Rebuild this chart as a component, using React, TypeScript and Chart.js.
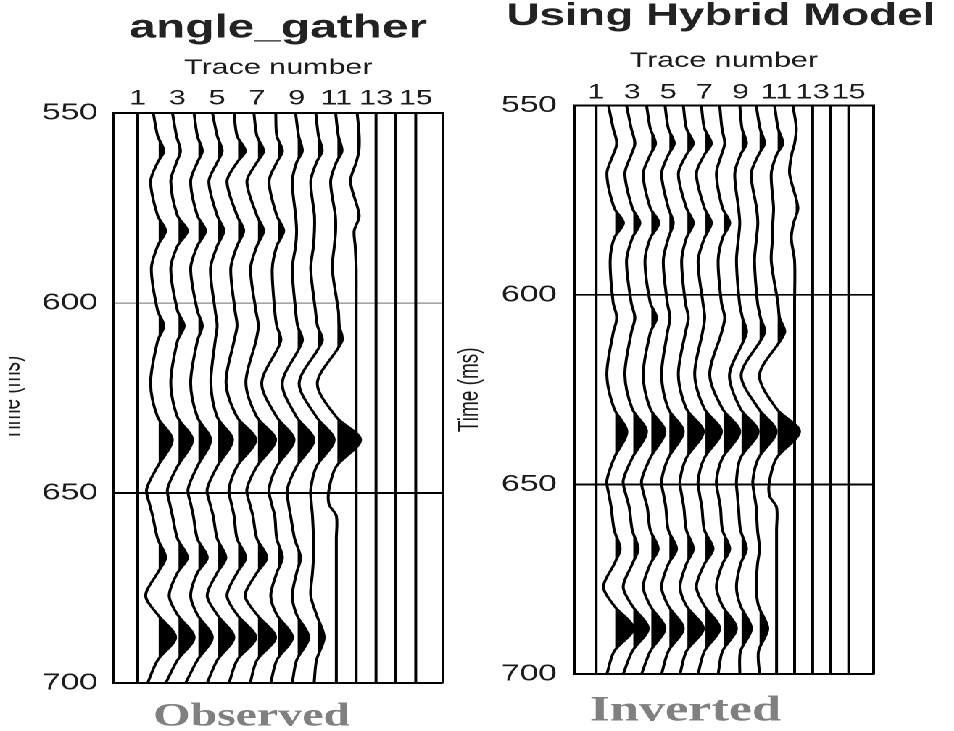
import React, { useEffect, useRef } from 'react';
import { Chart, registerables } from 'chart.js';

Chart.register(...registerables);

// ---------------- data ----------------
// time samples (ms) at which the trace amplitudes were read
const TIME_MS = [550, 556, 560, 563, 568, 577, 581, 585, 591, 602, 606, 610, 621, 630, 636, 643, 649, 653, 656, 662, 667, 671, 677, 682, 688, 694, 700];
const TRACE_NUMBERS = [1, 2, 3, 4, 5, 6, 7, 8, 9, 10, 11, 12, 13, 14, 15];
const TRACE_TICKS = [1, 3, 5, 7, 9, 11, 13, 15];
const TIME_TICKS = [550, 600, 650, 700];

const DEAD_TRACE = [0, 0, 0, 0, 0, 0, 0, 0, 0, 0, 0, 0, 0, 0, 0, 0, 0, 0, 0, 0, 0, 0, 0, 0, 0, 0, 0];

// Observed angle gather, amplitudes per trace
const OBS_02 = [-4.3, 0, 6.3, 0, -7, 0, 8, 0, -6.3, 0, 6.3, 0, -7, 0, 14.7, 0, -11, -8, -5, 0, 8, 0, -12, 0, 18, 0, -10];
const OBS_03 = [-5, -1, 3, -1, -6.7, 0, 10, 0, -6.7, 0, 6.7, 0, -6.7, 0, 15, 0, -10, -7.5, -5, 0, 10, 0, -8.3, 0, 16.7, 0, -11.7];
const OBS_04 = [-3.3, 0, 5, 0, -6.7, 0, 8.3, 0, -6.7, 0, 5, 0, -6.7, 0, 13.3, 0, -9.3, -6.5, -4, 0, 10, 0, -6.7, 0, 15, 0, -11.7];
const OBS_05 = [-4.7, 0, 5, 0, -8.3, 0, 6.7, 0, -6.7, -2, 0, -2, -6.3, 0, 15.3, 0, -10, -7, -4, 0, 8.7, 0, -10, 0, 16.7, 0, -10];
const OBS_06 = [-3, 0, 8.3, 0, -10, 0, 6.7, 0, -6.3, -2, 0, -3, -11, 0, 18.7, 0, -8, -5.5, -3, 0, 8.7, 0, -10, 0, 18.7, 0, -8];
const OBS_07 = [-3, 0, 6.7, 0, -10, 0, 6.7, 0, -6.3, -1, 1.5, -1, -11, 0, 18.7, 0, -10, -7, -4, 0, 10, 0, -11.7, 0, 18.7, 0, -6.7];
const OBS_08 = [-1, 0, 5.7, 0, -7.7, 0, 7, 0, -4.5, -2, 0, 4, -15, 0, 17.3, 0, -7.7, -5, -2, 0, 5.7, 0, -6, 0, 15.7, 0, -6];
const OBS_09 = [-1, 2, 5.7, 0, -4.3, -1, 0, -1, -4.3, -1, 1, 5.7, -14.3, 0, 17.3, 0, -9.3, -8, -6, -2, 4, 0, -4.3, 0, 12.3, 0, -4.3];
const OBS_10 = [-0.7, 2, 5.7, 0, -5.7, -2, -2, -3, -5.7, -1, 1, 5.7, -17.3, 0, 17.7, 0, -5.7, -5, -4, -3, -3, -4, -5.7, 0, 7.7, 0, -2.3];
const OBS_11 = [-0.7, 2, 5.7, 0, -5.7, -1, -0.7, -2, -4, 2, 3, 5.7, -19, 0, 24.3, 0, -7.3, -7.3, 0, 0, 0, 0, 0, 0, 0, 0, 0];
const OBS_12 = [1, 3, 2.7, 0, -5.7, 3, -2, -1, 0, 0, 0, 0, 0, 0, 0, 0, 0, 0, 0, 0, 0, 0, 0, 0, 0, 0, 0];

// Inverted gather (hybrid model), amplitudes per trace
const INV_02 = [-5.7, -1, 2.7, -1, -7.3, 0, 9.3, 0, -4, -1, 2.7, -1, -7.3, 0, 12.7, 0, -7.3, -5, -3, 0, 6, 0, -10.7, 0, 19.3, 0, -7.3];
const INV_03 = [-5.7, -1, 2.7, -1, -7.3, 0, 7.7, 0, -5.7, -1, 2.7, -1, -7.3, 0, 14.3, 0, -9, -6, -3, 0, 6, 0, -9, 0, 16, 0, -9];
const INV_04 = [-3.7, 0, 5.3, 0, -7, 0, 8.7, 0, -5.3, 0, 6.3, 0, -7, 0, 14.7, 0, -8.7, -6, -3, 0, 8, 0, -7, 0, 14.7, 0, -8.7];
const INV_05 = [-3.3, 0, 6, 0, -6.7, 0, 5, 0, -5, -1, 1.7, -1, -6.7, 0, 15, 0, -6.7, -4.5, -2.5, 0, 8.3, 0, -6.7, 0, 15, 0, -6.7];
const INV_06 = [-3, 0, 7, 0, -8, 0, 7, 0, -4.7, -1, 2, -1, -8, 0, 17, 0, -6.3, -4.5, -2.5, 0, 7, 0, -6.3, 0, 17, 0, -6.3];
const INV_07 = [-3, 0, 7, 0, -8, 0, 7, 0, -6.3, -1.5, 0.3, -2, -9.7, 0, 17, 0, -6.3, -4.5, -2.5, 0, 8.7, 0, -8, 0, 15.3, 0, -6.3];
const INV_08 = [-2.7, -0.5, 2.3, -1, -6, 0, 7.3, 0, -4.3, -1, 2.3, -1, -12.7, 0, 17.3, 0, -6, -4, -2, 0, 7.3, 0, -6, 0, 14, 0, -4.3];
const INV_09 = [-0.7, 1.5, 6, 0, -5.7, -2, -0.7, -2, -4, -1, 2, 6, -11, 0, 17.7, 0, -4, -3, -2, 0, 6, 0, -4, 0, 11, 0, -0.7];
const INV_10 = [-2.3, 1.5, 6, 0, -7.3, -2, -0.7, -2, -4, -1, 2, 6, -17.3, 0, 17.7, 0, -5.7, -4, -2.3, -1, 1, -1, -2.3, 0, 9.3, 0, 1];
const INV_11 = [-2, 1.5, 6.3, 0, -5.3, -3, -3.7, -4, -5.3, 1.3, 3, 8, -17, 0, 23, 0, -7, -7, 0, 0, 0, 0, 0, 0, 0, 0, 0];
const INV_12 = [-1.7, 1.7, 0, -3, -5, 3.3, -1, -3.3, 0, 0, 0, 0, 0, 0, 0, 0, 0, 0, 0, 0, 0, 0, 0, 0, 0, 0, 0];

const OBSERVED = [DEAD_TRACE, OBS_02, OBS_03, OBS_04, OBS_05, OBS_06, OBS_07, OBS_08, OBS_09, OBS_10, OBS_11, OBS_12, DEAD_TRACE, DEAD_TRACE, DEAD_TRACE];
const INVERTED = [DEAD_TRACE, INV_02, INV_03, INV_04, INV_05, INV_06, INV_07, INV_08, INV_09, INV_10, INV_11, INV_12, DEAD_TRACE, DEAD_TRACE, DEAD_TRACE];

// ---------------- display settings ----------------
const STRETCH = 1.45; // the figure is stretched horizontally
const SANS = "'Liberation Sans', Arial, Helvetica, sans-serif";
const SERIF = "'Liberation Serif', 'Times New Roman', serif";
const INK = '#1a1a1a';

// variable-area fill: shades the part of each wiggle line lying right of its trace baseline
const variableAreaPlugin = {
  id: 'variableArea',
  beforeDatasetsDraw(chart: any) {
    const ctx = chart.ctx;
    const area = chart.chartArea;
    const xs = chart.scales.x;
    chart.data.datasets.forEach((ds: any, i: number) => {
      if (ds.traceBase === undefined || !ds.shadePositive) return;
      const meta = chart.getDatasetMeta(i);
      const line = meta.dataset;
      const pts = meta.data;
      if (!line || !pts || pts.length < 2) return;
      line.updateControlPoints(area, 'y');
      const bx = xs.getPixelForValue(ds.traceBase);
      const edge = bx + 0.75;
      ctx.save();
      ctx.beginPath();
      ctx.rect(edge, area.top, area.right - edge, area.bottom - area.top);
      ctx.clip();
      ctx.beginPath();
      line.path(ctx);
      ctx.lineTo(bx, pts[pts.length - 1].y);
      ctx.lineTo(bx, pts[0].y);
      ctx.closePath();
      ctx.fillStyle = '#000';
      ctx.fill();
      ctx.restore();
    });
  },
};

function buildDatasets(traces: number[][], gain: number) {
  return traces.map((amps, i) => {
    const base = TRACE_NUMBERS[i];
    return {
      data: TIME_MS.map((t, j) => ({ x: base + amps[j] * gain, y: t })),
      traceBase: base,
      shadePositive: amps.some((a) => a > 0),
      borderColor: '#000',
      borderWidth: 2,
      backgroundColor: 'rgba(0,0,0,0)',
      fill: false,
      tension: 0.3,
      pointRadius: 0,
    };
  });
}

type Panel = {
  traces: number[][];
  gain: number;
  title: string;
  titleSize: number;
  titlePadTop: number;
  titleAlign: string;
  titleFull: boolean;
  sub: string;
  subSize: number;
  subPad: { top: number; bottom: number };
  padLeft: number;
  padRight: number;
  axisHeight: number;
  axisTitlePadTop: number;
  tickPad: number;
  yWidth: number;
  yTitlePad: number;
  yTickPad: number;
  rightWidth: number;
  grayMid: boolean;
};

const LEFT: Panel = {
  traces: OBSERVED,
  gain: 1 / 19.86,
  title: 'angle_gather',
  titleSize: 33,
  titlePadTop: 12,
  titleAlign: 'center',
  titleFull: false,
  sub: 'Observed',
  subSize: 33,
  subPad: { top: 17.5, bottom: -2.5 },
  padLeft: 0,
  padRight: 0,
  axisHeight: 68,
  axisTitlePadTop: 10.4,
  tickPad: 1.9,
  yWidth: 72.43,
  yTitlePad: -8.9,
  yTickPad: 11,
  rightWidth: 35.67,
  grayMid: true,
};

const RIGHT: Panel = {
  traces: INVERTED,
  gain: 1 / 18.05,
  title: 'Using Hybrid Model',
  titleSize: 31.5,
  titlePadTop: 0.5,
  titleAlign: 'end',
  titleFull: true,
  sub: 'Inverted',
  subSize: 36,
  subPad: { top: 19, bottom: 2 },
  padLeft: 12.2,
  padRight: 12,
  axisHeight: 73.5,
  axisTitlePadTop: 16.4,
  tickPad: 0,
  yWidth: 95.86,
  yTitlePad: 12.7,
  yTickPad: 12,
  rightWidth: 42.73,
  grayMid: false,
};

function makeConfig(p: Panel): any {
  return {
    type: 'line',
    data: { datasets: buildDatasets(p.traces, p.gain) },
    plugins: [variableAreaPlugin],
    options: {
      indexAxis: 'y',
      animation: false,
      responsive: false,
      maintainAspectRatio: false,
      devicePixelRatio: 2,
      events: [],
      layout: { padding: { left: p.padLeft, right: p.padRight, top: 0, bottom: 0 } },
      plugins: {
        legend: { display: false },
        tooltip: { enabled: false },
        title: {
          display: true,
          text: p.title,
          fullSize: p.titleFull,
          align: p.titleAlign,
          color: '#222',
          font: { family: SANS, size: p.titleSize, weight: 'bold', lineHeight: 1 },
          padding: { top: p.titlePadTop, bottom: 0 },
        },
        subtitle: {
          display: true,
          position: 'bottom',
          text: p.sub,
          fullSize: true,
          align: 'center',
          color: '#808080',
          font: { family: SERIF, size: p.subSize, weight: 'bold', lineHeight: 1 },
          padding: p.subPad,
        },
      },
      scales: {
        x: {
          type: 'linear',
          position: 'top',
          min: -0.21,
          max: 16.36,
          afterBuildTicks: (s: any) => {
            s.ticks = TRACE_TICKS.map((v) => ({ value: v }));
          },
          afterFit: (s: any) => {
            s.height = p.axisHeight;
          },
          ticks: {
            autoSkip: false,
            maxRotation: 0,
            minRotation: 0,
            padding: p.tickPad,
            color: INK,
            font: { family: SANS, size: 21 },
          },
          grid: { display: false, drawTicks: false },
          border: { display: true, color: '#000', width: 2 },
          title: {
            display: true,
            text: 'Trace number',
            color: INK,
            font: { family: SANS, size: 21 },
            padding: { top: p.axisTitlePadTop, bottom: 0 },
          },
        },
        y: {
          type: 'linear',
          position: 'left',
          reverse: true,
          min: 550,
          max: 700,
          afterBuildTicks: (s: any) => {
            s.ticks = TIME_TICKS.map((v) => ({ value: v }));
          },
          afterFit: (s: any) => {
            s.width = p.yWidth;
          },
          ticks: {
            padding: p.yTickPad,
            color: INK,
            font: { family: SANS, size: 23 },
          },
          grid: {
            drawTicks: false,
            color: (c: any) => (p.grayMid && c.tick && c.tick.value === 600 ? '#8a8a8a' : '#000'),
            lineWidth: (c: any) => {
              if (c.tick && c.tick.value === 600) return p.grayMid ? 1.2 : 1.6;
              return 2;
            },
          },
          border: { display: true, color: '#000', width: 2 },
          title: {
            display: true,
            text: 'Time (ms)',
            color: INK,
            font: { family: SANS, size: 19 },
            padding: { top: p.yTitlePad, bottom: 0 },
          },
        },
        yR: {
          type: 'linear',
          axis: 'y',
          position: 'right',
          display: true,
          afterFit: (s: any) => {
            s.width = p.rightWidth;
          },
          ticks: { display: false },
          grid: { display: false, drawTicks: false },
          border: { display: true, color: '#000', width: 2 },
        },
      },
    },
  };
}

export default function App() {
  const leftRef = useRef<HTMLCanvasElement>(null);
  const rightRef = useRef<HTMLCanvasElement>(null);

  useEffect(() => {
    document.body.style.overflow = 'hidden';
    const c1 = new Chart(leftRef.current as HTMLCanvasElement, makeConfig(LEFT));
    const c2 = new Chart(rightRef.current as HTMLCanvasElement, makeConfig(RIGHT));
    return () => {
      c1.destroy();
      c2.destroy();
    };
  }, []);

  return (
    <div
      style={{
        position: 'absolute',
        left: 0,
        top: 0,
        width: 657,
        height: 731,
        background: '#fff',
        transform: `scaleX(${STRETCH})`,
        transformOrigin: '0 0',
      }}
    >
      <canvas
        ref={leftRef}
        width={335}
        height={731}
        style={{ position: 'absolute', left: 5.5, top: 0, width: 335, height: 731 }}
      />
      <canvas
        ref={rightRef}
        width={369}
        height={731}
        style={{ position: 'absolute', left: 287.8, top: 0, width: 369, height: 731 }}
      />
    </div>
  );
}
